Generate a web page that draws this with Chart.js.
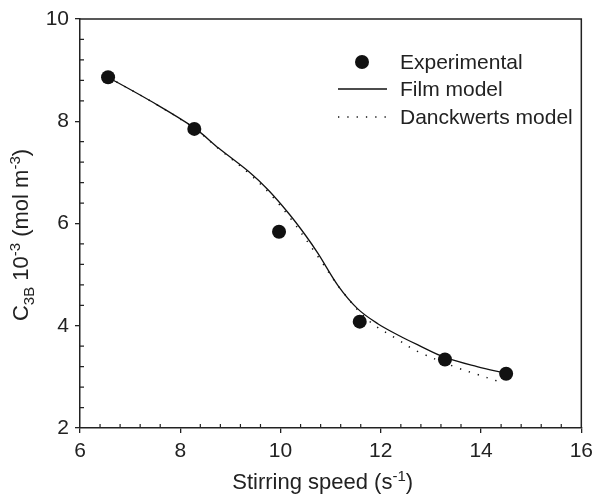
<!DOCTYPE html>
<html>
<head>
<meta charset="utf-8">
<script src="https://cdn.jsdelivr.net/npm/chart.js@4/dist/chart.umd.min.js"></script>
<style>
  html, body { margin: 0; padding: 0; background: #fff; }
</style>
</head>
<body>
<canvas id="chart" width="599" height="494"></canvas>
<script>
// experimental points
var expSpeed = [6.56, 8.28, 9.97, 11.58, 13.28, 14.50];
var expConc  = [8.86, 7.85, 5.84, 4.08, 3.34, 3.06];

// film model curve
var filmSpeed = [6.56, 7.40, 8.28, 8.77, 9.37, 9.76, 10.16, 10.49, 10.75, 11.15, 11.54, 11.94, 12.34, 12.73, 13.28, 13.92, 14.50];
var filmConc  = [8.86, 8.40, 7.87, 7.47, 7.01, 6.65, 6.20, 5.78, 5.41, 4.78, 4.33, 4.04, 3.82, 3.63, 3.38, 3.20, 3.07];

// Danckwerts model curve
var danckSpeed = [6.56, 7.40, 8.28, 8.77, 9.37, 9.76, 10.16, 10.75, 11.21, 11.76, 12.34, 12.73, 13.52, 13.92, 14.32];
var danckConc  = [8.86, 8.40, 7.86, 7.46, 6.98, 6.61, 6.15, 5.35, 4.70, 4.10, 3.73, 3.50, 3.18, 3.05, 2.92];

var xTicks = [6, 8, 10, 12, 14, 16];
var yTicks = [2, 4, 6, 8, 10];

var seriesNames = ['Experimental', 'Film model', 'Danckwerts model'];
var xTitle = [['Stirring speed (s', 0], ['-1', -1], [')', 0]];
var yTitle = [['C', 0], ['3B', 1], [' 10', 0], ['-3', -1], [' (mol m', 0], ['-3', -1], [')', 0]];

var FONT = '"Liberation Sans", Arial, sans-serif';
var INK = '#222';

function toXY(xs, ys) {
  var out = [];
  for (var i = 0; i < xs.length; i++) out.push({x: xs[i], y: ys[i]});
  return out;
}

// text with sub / superscripts; kind 0 normal, 1 sub, -1 super
function richWidth(ctx, parts, size) {
  var w = 0;
  parts.forEach(function(p){
    ctx.font = (p[1] === 0 ? size : Math.round(size * 0.7)) + 'px ' + FONT;
    w += ctx.measureText(p[0]).width;
  });
  return w;
}
function drawRich(ctx, parts, size, x, y) {
  parts.forEach(function(p){
    var s = p[1] === 0 ? size : Math.round(size * 0.7);
    var dy = p[1] === 1 ? size * 0.25 : (p[1] === -1 ? -size * 0.38 : 0);
    ctx.font = s + 'px ' + FONT;
    ctx.fillText(p[0], x, y + dy);
    x += ctx.measureText(p[0]).width;
  });
}

var decorPlugin = {
  id: 'decor',
  afterDraw: function(chart) {
    var ctx = chart.ctx, a = chart.chartArea;
    var xs = chart.scales.x, ys = chart.scales.y;
    ctx.save();

    // top and right frame
    ctx.strokeStyle = INK;
    ctx.lineWidth = 1.5;
    ctx.beginPath();
    ctx.moveTo(a.left, a.top);
    ctx.lineTo(a.right, a.top);
    ctx.lineTo(a.right, a.bottom);
    ctx.stroke();

    // inward minor ticks
    ctx.lineWidth = 1.2;
    ctx.beginPath();
    for (var i = 1; i < 25; i++) {
      if (i % 5 === 0) continue;
      var px = xs.getPixelForValue(6 + i * 0.4);
      ctx.moveTo(px, a.bottom);
      ctx.lineTo(px, a.bottom - 4);
    }
    for (var j = 1; j < 20; j++) {
      if (j % 5 === 0) continue;
      var py = ys.getPixelForValue(2 + j * 0.4);
      ctx.moveTo(a.left, py);
      ctx.lineTo(a.left + 4, py);
    }
    ctx.stroke();

    // axis titles
    ctx.fillStyle = INK;
    ctx.textBaseline = 'alphabetic';
    ctx.textAlign = 'left';
    var w = richWidth(ctx, xTitle, 22);
    drawRich(ctx, xTitle, 22, (a.left + a.right) / 2 - w / 2 - 8, 489);

    ctx.save();
    ctx.translate(28, 235);
    ctx.rotate(-Math.PI / 2);
    w = richWidth(ctx, yTitle, 22);
    drawRich(ctx, yTitle, 22, -w / 2, 0);
    ctx.restore();

    // legend
    var lx0 = 338, lx1 = 387, tx = 400;
    var rows = [62, 89, 117];
    ctx.fillStyle = '#111';
    ctx.beginPath();
    ctx.arc((lx0 + lx1) / 2 - 0.5, rows[0], 7, 0, Math.PI * 2);
    ctx.fill();

    ctx.strokeStyle = '#111';
    ctx.lineWidth = 1.3;
    ctx.beginPath();
    ctx.moveTo(lx0, rows[1]);
    ctx.lineTo(lx1, rows[1]);
    ctx.stroke();

    ctx.setLineDash([1.3, 8]);
    ctx.lineWidth = 1.5;
    ctx.beginPath();
    ctx.moveTo(lx0, rows[2]);
    ctx.lineTo(lx1, rows[2]);
    ctx.stroke();
    ctx.setLineDash([]);

    ctx.fillStyle = INK;
    ctx.font = '21px ' + FONT;
    ctx.textBaseline = 'middle';
    for (var k = 0; k < seriesNames.length; k++) {
      ctx.fillText(seriesNames[k], tx, rows[k] + 1);
    }
    ctx.restore();
  }
};

new Chart(document.getElementById('chart').getContext('2d'), {
  type: 'scatter',
  data: {
    datasets: [{
      label: seriesNames[0],
      data: toXY(expSpeed, expConc),
      pointRadius: 7,
      pointHoverRadius: 7,
      pointBackgroundColor: '#111',
      pointBorderWidth: 0,
      showLine: false,
      order: 0
    }, {
      label: seriesNames[1],
      data: toXY(filmSpeed, filmConc),
      showLine: true,
      pointRadius: 0,
      borderColor: '#111',
      borderWidth: 1.3,
      tension: 0.35,
      order: 1
    }, {
      label: seriesNames[2],
      data: toXY(danckSpeed, danckConc),
      showLine: true,
      pointRadius: 0,
      borderColor: '#111',
      borderWidth: 1.5,
      borderDash: [1.3, 8],
      tension: 0.35,
      order: 2
    }]
  },
  options: {
    responsive: false,
    animation: false,
    layout: { padding: { top: 19, right: 14, left: 0, bottom: 0 } },
    plugins: { legend: { display: false }, tooltip: { enabled: false } },
    scales: {
      x: {
        type: 'linear',
        min: 6, max: 16,
        afterBuildTicks: function(s){ s.ticks = xTicks.map(function(v){ return {value: v}; }); },
        afterFit: function(s){ s.height = 66; },
        grid: { drawOnChartArea: false, drawTicks: true, tickLength: 5, color: INK, lineWidth: 1.3 },
        border: { color: INK, width: 1.5 },
        ticks: { color: INK, padding: 6, font: { family: FONT, size: 21 }, maxRotation: 0 }
      },
      y: {
        type: 'linear',
        min: 2, max: 10,
        afterBuildTicks: function(s){ s.ticks = yTicks.map(function(v){ return {value: v}; }); },
        afterFit: function(s){ s.width = 80; },
        grid: { drawOnChartArea: false, drawTicks: true, tickLength: 5, color: INK, lineWidth: 1.3 },
        border: { color: INK, width: 1.5 },
        ticks: { color: INK, padding: 6, font: { family: FONT, size: 21 } }
      }
    }
  },
  plugins: [decorPlugin]
});
</script>
</body>
</html>
